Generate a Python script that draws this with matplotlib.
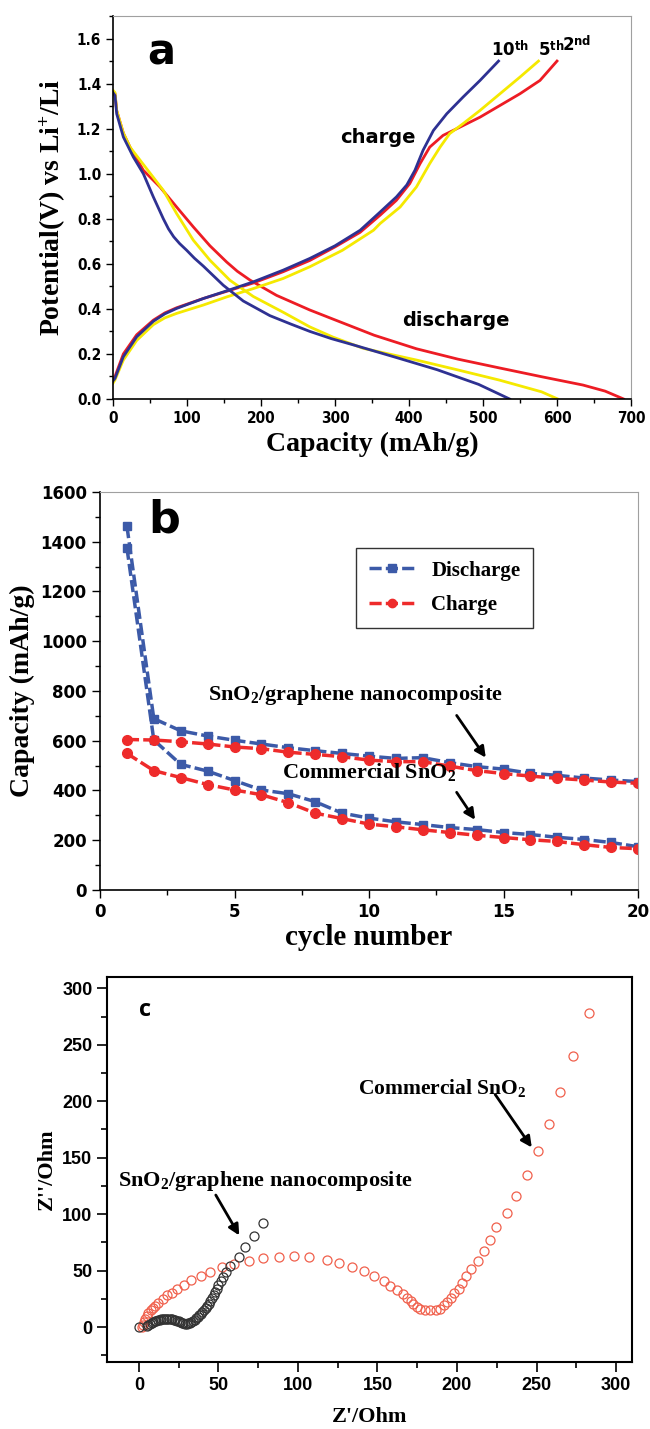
import matplotlib
matplotlib.use('Agg')
import matplotlib.pyplot as plt
from matplotlib.ticker import MultipleLocator
from matplotlib.lines import Line2D

plt.rcParams['mathtext.fontset'] = 'custom'
plt.rcParams['mathtext.rm'] = 'Liberation Serif:bold'
plt.rcParams['mathtext.sf'] = 'DejaVu Sans:bold'
plt.rcParams['mathtext.default'] = 'rm'

# ---------------- Panel a data ----------------
dis10_cap = [0, 2.7, 5, 14, 27.5, 41, 54.5, 68, 75, 82, 90, 99.6, 110, 122, 149, 176, 212, 240, 266, 295, 325, 382,
             438, 494, 536]
dis10_v = [1.36, 1.347, 1.266, 1.163, 1.074, 1.0, 0.897, 0.80, 0.755, 0.72, 0.69, 0.66, 0.625, 0.59, 0.505, 0.435,
           0.37, 0.333, 0.30, 0.268, 0.24, 0.185, 0.13, 0.065, 0.0]
dis5_cap = [0, 2.7, 5, 14, 23, 45.5, 68, 86, 108.5, 131, 158, 189.6, 230, 266, 297, 338, 410, 466, 522, 579, 601]
dis5_v = [1.37, 1.36, 1.28, 1.18, 1.118, 1.022, 0.926, 0.823, 0.705, 0.616, 0.527, 0.455, 0.385, 0.32, 0.275, 0.225,
          0.173, 0.129, 0.084, 0.032, 0.0]
dis2_cap = [0, 2.7, 5, 14, 23, 41, 63.5, 86, 108.5, 131, 153.6, 168, 185, 221, 266, 297, 353, 410, 466, 522, 579,
            635, 665, 690]
dis2_v = [1.36, 1.355, 1.28, 1.18, 1.118, 1.015, 0.941, 0.852, 0.764, 0.68, 0.608, 0.567, 0.528, 0.46, 0.395, 0.355,
          0.283, 0.223, 0.177, 0.138, 0.099, 0.062, 0.035, 0.0]

chg10_cap = [0, 2.7, 14, 32, 54.5, 70, 86, 122, 153.6, 189.6, 230, 266, 300, 334, 361, 383, 397, 408, 419, 433, 451,
             473, 496, 521]
chg10_v = [0.08, 0.092, 0.188, 0.276, 0.345, 0.378, 0.402, 0.446, 0.48, 0.52, 0.572, 0.624, 0.68, 0.749, 0.83, 0.897,
           0.95, 1.015, 1.104, 1.192, 1.266, 1.34, 1.414, 1.50]
chg5_cap = [0, 2.7, 14, 32, 54.5, 70, 86, 122, 153.6, 189.6, 230, 266, 310, 352, 361, 388, 410, 428, 442, 455, 473,
            496, 523, 550, 575]
chg5_v = [0.07, 0.085, 0.173, 0.26, 0.33, 0.36, 0.38, 0.417, 0.453, 0.49, 0.535, 0.587, 0.66, 0.749, 0.779, 0.852,
          0.941, 1.045, 1.118, 1.178, 1.222, 1.281, 1.355, 1.429, 1.50]
chg2_cap = [0, 2.7, 14, 32, 54.5, 70, 86, 122, 153.6, 189.6, 230, 266, 300, 334, 361, 383, 401, 415, 428, 446, 469,
            496, 523, 550, 577, 600]
chg2_v = [0.09, 0.10, 0.20, 0.285, 0.35, 0.382, 0.405, 0.446, 0.478, 0.515, 0.565, 0.615, 0.675, 0.74, 0.816, 0.882,
          0.956, 1.045, 1.118, 1.17, 1.207, 1.251, 1.303, 1.355, 1.414, 1.50]

# ---------------- Panel b data ----------------
cycles = list(range(1, 21))
graphene_dis = [1463, 689, 640, 619, 602, 587, 572, 560, 549, 538, 529, 532, 512, 496, 486, 469, 461, 450, 442, 436]
graphene_chg = [605, 603, 596, 587, 575, 568, 554, 545, 536, 522, 516, 516, 498, 480, 468, 458, 449, 442, 434, 429]
commercial_dis = [1376, 603, 505, 478, 440, 402, 387, 355, 309, 289, 274, 263, 251, 243, 231, 223, 212, 203, 191, 174]
commercial_chg = [549, 480, 452, 424, 402, 383, 351, 309, 287, 265, 254, 242, 231, 220, 211, 202, 195, 182, 171, 166]

# ---------------- Panel c data ----------------
graph_zre = [0, 5, 6, 7, 8, 9, 10, 11, 12, 13, 14, 15, 16, 17, 18, 19, 20, 21, 22, 23, 24, 25, 26, 27, 28, 29, 30,
             31, 32, 33, 34, 35, 36, 37, 38, 39, 40, 41, 42, 43, 44, 45, 46, 47, 48, 49, 50, 51.5, 53, 55, 57.5, 63, 67,
             72.5, 78]
graph_zim = [0, 0.5, 1.5, 2.5, 3.5, 4.3, 5, 5.6, 6.1, 6.5, 6.8, 7, 7.1, 7.2, 7.2, 7.1, 7, 6.8, 6.5, 6, 5.5, 5, 4.3,
             3.7, 3.2, 2.9, 2.9, 3.2, 3.8, 4.6, 5.5, 6.5, 7.6, 8.8, 10.2, 11.7, 13.3, 15, 16.8, 18.7, 20.8, 23, 25.5,
             28.2, 31, 34, 37, 41, 44, 48.5, 54, 62, 71, 81, 92]
comm_zre = [2, 2.5, 3, 4, 5, 6, 7.5, 9, 10.2, 12.3, 15, 17.5, 20.7, 24, 28.3, 33, 39, 45, 52, 60, 69, 78, 88, 97.5,
            107, 118.5, 126, 134, 141.5, 148, 154, 158, 162.4, 165.8, 168.7, 171, 172.6, 174.7, 177, 180, 183, 186.5,
            189, 192, 194, 196.5, 198.3, 201, 203, 205.6, 209, 213, 216.7, 220.6, 224.5, 231.6, 237, 244.3, 250.8,
            257.6, 264.7, 273, 283]
comm_zim = [0, 2, 4, 7, 10, 12.5, 15, 17, 18.7, 21.4, 25, 28, 30, 34, 37, 41.5, 45, 49, 52.8, 56, 58.8, 60.8, 62.3,
            63, 61.7, 59.3, 57, 53.4, 49.5, 45, 41, 36.5, 32.6, 29, 26, 23, 20, 18, 16.3, 15.4, 14.8, 15.4, 16.3,
            19.3, 22.3, 26, 29.7, 34, 39, 45, 51, 58.8, 67.4, 77, 89, 101, 116.3, 134.8, 156, 180, 208, 240.4, 278.5]

W, H = 650, 1429
fig = plt.figure(figsize=(W / 100, H / 100), dpi=100)


def ax_px(l, r, t, b):
    return fig.add_axes([l / W, 1 - b / H, (r - l) / W, (b - t) / H])


serif = 'Liberation Serif'
sans = 'Liberation Sans'

# ================= Panel a =================
ax = ax_px(113, 631, 16, 399)
ax.plot(dis2_cap, dis2_v, color='#ed1c24', lw=2)
ax.plot(chg2_cap, chg2_v, color='#ed1c24', lw=2)
ax.plot(dis5_cap, dis5_v, color='#f5e900', lw=2)
ax.plot(chg5_cap, chg5_v, color='#f5e900', lw=2)
ax.plot(dis10_cap, dis10_v, color='#2e3192', lw=2)
ax.plot(chg10_cap, chg10_v, color='#2e3192', lw=2)
ax.set_xlim(0, 700)
ax.set_ylim(0, 1.7)
ax.xaxis.set_major_locator(MultipleLocator(100))
ax.xaxis.set_minor_locator(MultipleLocator(50))
ax.yaxis.set_major_locator(MultipleLocator(0.2))
ax.yaxis.set_minor_locator(MultipleLocator(0.1))
ax.yaxis.set_major_formatter(plt.FuncFormatter(lambda v, p: f'{v:.1f}'))
ax.tick_params(which='major', direction='out', length=5, width=1, labelsize=11, top=False, right=False)
ax.tick_params(which='minor', direction='out', length=3, width=1, top=False, right=False)
for lab in ax.get_xticklabels() + ax.get_yticklabels():
    lab.set_fontfamily('DejaVu Sans')
    lab.set_fontstretch('condensed')
    lab.set_fontweight('bold')
for s in ['left', 'bottom']:
    ax.spines[s].set_linewidth(1.2)
for s in ['top', 'right']:
    ax.spines[s].set_color('#a0a0a0')
ax.set_xlabel('Capacity (mAh/g)', fontfamily=serif, fontweight='bold', fontsize=20, labelpad=4)
ax.set_ylabel('Potential(V) vs Li$^{+}$/Li', fontfamily=serif, fontweight='bold', fontsize=20, labelpad=6)
ax.text(0.066, 0.905, 'a', transform=ax.transAxes, fontsize=30, fontweight='bold', fontfamily='DejaVu Sans',
        ha='left', va='center')
ax.text(358, 1.16, 'charge', fontsize=14, fontweight='bold', fontfamily='DejaVu Sans', ha='center', va='center')
ax.text(463, 0.35, 'discharge', fontsize=14, fontweight='bold', fontfamily='DejaVu Sans', ha='center', va='center')
ax.text(511, 1.525, '10$^{\\mathsf{th}}$', fontsize=12, fontweight='bold', fontfamily='DejaVu Sans', ha='left',
        va='baseline')
ax.text(575, 1.525, '5$^{\\mathsf{th}}$', fontsize=12, fontweight='bold', fontfamily='DejaVu Sans', ha='left',
        va='baseline')
ax.text(607, 1.545, '2$^{\\mathsf{nd}}$', fontsize=12, fontweight='bold', fontfamily='DejaVu Sans', ha='left',
        va='baseline')

# ================= Panel b =================
bx = ax_px(100, 638, 492, 890)
blue = '#3c5aa8'
red = '#ee2b2b'
dash = (3.5, 1.2)
bx.plot(cycles, graphene_dis, color=blue, lw=2.5, dashes=dash, marker='s', ms=6)
bx.plot(cycles, commercial_dis, color=blue, lw=2.5, dashes=dash, marker='s', ms=6)
bx.plot(cycles, graphene_chg, color=red, lw=2.5, dashes=dash, marker='o', ms=7)
bx.plot(cycles, commercial_chg, color=red, lw=2.5, dashes=dash, marker='o', ms=7)
bx.set_xlim(0, 20)
bx.set_ylim(0, 1600)
bx.xaxis.set_major_locator(MultipleLocator(5))
bx.xaxis.set_minor_locator(MultipleLocator(2.5))
bx.yaxis.set_major_locator(MultipleLocator(200))
bx.yaxis.set_minor_locator(MultipleLocator(100))
bx.tick_params(which='major', direction='out', length=6, width=1, labelsize=12, top=False, right=False)
bx.tick_params(which='minor', direction='out', length=3.5, width=1, top=False, right=False)
for lab in bx.get_xticklabels() + bx.get_yticklabels():
    lab.set_fontfamily('DejaVu Sans')
    lab.set_fontweight('bold')
for s in ['left', 'bottom']:
    bx.spines[s].set_linewidth(1.2)
for s in ['top', 'right']:
    bx.spines[s].set_color('#a0a0a0')
bx.set_xlabel('cycle number', fontfamily=serif, fontweight='bold', fontsize=21, labelpad=2)
bx.set_ylabel('Capacity (mAh/g)', fontfamily=serif, fontweight='bold', fontsize=20, labelpad=4)
bx.text(0.09, 0.93, 'b', transform=bx.transAxes, fontsize=32, fontweight='bold', fontfamily='DejaVu Sans',
        ha='left', va='center')
handles = [Line2D([], [], color=blue, lw=2.5, dashes=dash, marker='s', ms=6),
           Line2D([], [], color=red, lw=2.5, dashes=dash, marker='o', ms=6)]
leg = bx.legend(handles, ['Discharge', 'Charge'], loc='upper left', bbox_to_anchor=(0.457, 0.885),
                prop={'family': serif, 'weight': 'bold', 'size': 15}, frameon=True, fancybox=False,
                edgecolor='black', handlelength=2.2, borderpad=0.6, labelspacing=0.7)
leg.get_frame().set_linewidth(1.0)
bx.annotate('', xy=(14.4, 523), xytext=(13.2, 711),
            arrowprops=dict(arrowstyle='-|>', color='black', lw=2, mutation_scale=16))
bx.text(9.5, 784, 'SnO$_2$/graphene nanocomposite', fontfamily=serif, fontweight='bold', fontsize=16,
        ha='center', va='center')
bx.annotate('', xy=(14.0, 273), xytext=(13.2, 402),
            arrowprops=dict(arrowstyle='-|>', color='black', lw=2, mutation_scale=16))
bx.text(10.0, 474, 'Commercial SnO$_2$', fontfamily=serif, fontweight='bold', fontsize=16,
        ha='center', va='center')

# ================= Panel c =================
cx = ax_px(107, 632, 977, 1362)
cx.plot(comm_zre, comm_zim, ls='none', marker='o', ms=6.5, mfc='none', mec='#f0604c', mew=0.9)
cx.plot(graph_zre, graph_zim, ls='none', marker='o', ms=6.5, mfc='none', mec='#333333', mew=0.9)
cx.set_xlim(-20, 310)
cx.set_ylim(-31, 310)
cx.xaxis.set_major_locator(MultipleLocator(50))
cx.xaxis.set_minor_locator(MultipleLocator(25))
cx.yaxis.set_major_locator(MultipleLocator(50))
cx.yaxis.set_minor_locator(MultipleLocator(25))
cx.tick_params(which='major', direction='out', length=7, width=1.2, labelsize=13, top=False, right=False)
cx.tick_params(which='minor', direction='out', length=4, width=1.2, top=False, right=False)
for lab in cx.get_xticklabels() + cx.get_yticklabels():
    lab.set_fontfamily(sans)
    lab.set_fontweight('bold')
for s in cx.spines.values():
    s.set_linewidth(1.5)
cx.set_xlabel("Z'/Ohm", fontfamily=serif, fontweight='bold', fontsize=16, labelpad=10)
cx.set_ylabel("Z''/Ohm", fontfamily=serif, fontweight='bold', fontsize=16, labelpad=4)
cx.text(0, 281, 'c', fontsize=17, fontweight='bold', fontfamily='Open Sans', ha='left', va='center')
cx.annotate('', xy=(248, 157), xytext=(223, 208),
            arrowprops=dict(arrowstyle='-|>', color='black', lw=2, mutation_scale=16))
cx.text(138, 212, 'Commercial SnO$_2$', fontfamily=serif, fontweight='bold', fontsize=15.5,
        ha='left', va='center')
cx.annotate('', xy=(64, 79), xytext=(47.5, 119),
            arrowprops=dict(arrowstyle='-|>', color='black', lw=2, mutation_scale=16))
cx.text(-13, 129, 'SnO$_2$/graphene nanocomposite', fontfamily=serif, fontweight='bold', fontsize=16,
        ha='left', va='center')

fig.savefig('out.png', dpi=100)
